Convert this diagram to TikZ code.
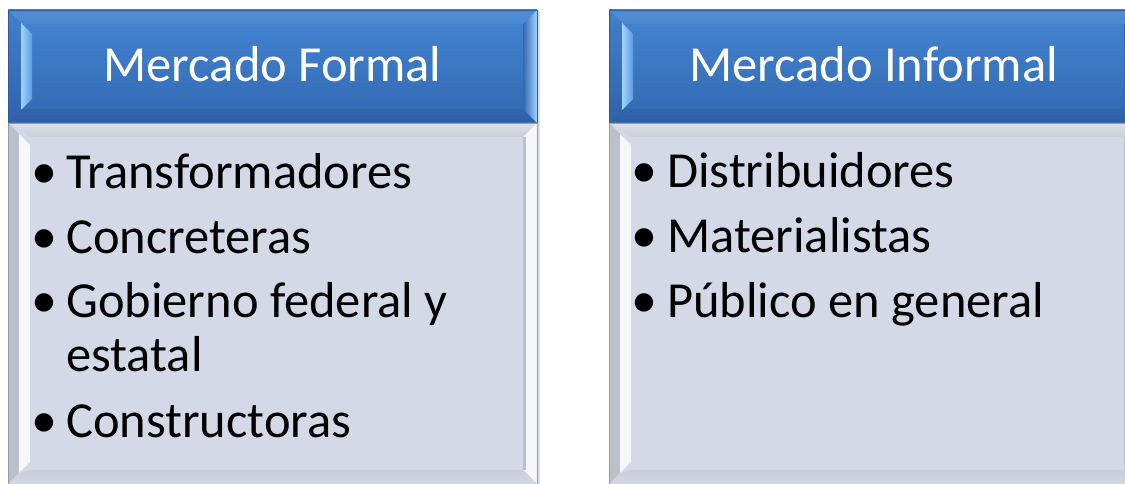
\documentclass[tikz,border=0pt]{standalone}
\usepackage{fontspec}
\setmainfont{Carlito}
\definecolor{hdtop}{RGB}{68,134,210}
\definecolor{hdbot}{RGB}{50,103,178}
\definecolor{hdline}{RGB}{45,90,155}
\definecolor{hdlight}{RGB}{160,212,255}
\definecolor{hdmid}{RGB}{90,155,228}
\definecolor{bdfill}{RGB}{211,217,230}
\definecolor{bdtop}{RGB}{222,225,232}
\definecolor{bdtopin}{RGB}{200,205,217}
\definecolor{bdgray}{RGB}{188,192,203}
\definecolor{bdwhite}{RGB}{246,247,249}
\definecolor{bdline}{RGB}{150,155,166}
\definecolor{shadowc}{RGB}{222,222,222}
\tikzset{
  hdtext/.style={anchor=base, inner sep=0pt, text=white, font=\fontsize{50.5bp}{55bp}\selectfont},
  bdtext/.style={anchor=base west, inner sep=0pt, text=black, font=\fontsize{50.5bp}{55bp}\selectfont},
  bullet/.style={anchor=base, inner sep=0pt, text=black, font=\fontsize{52bp}{55bp}\selectfont},
}
\newcommand{\mkcolumn}[1]{%
\begin{scope}[shift={(#1,0)}]
  % shadow
  \fill[shadowc] (9,11) rectangle (540,490);
  % header
  \shade[top color=hdtop,bottom color=hdbot] (8,10) rectangle (537,123);
  \fill[white,opacity=0.06] (8,10)--(537,10)--(523,24)--(22,24)--cycle;
  \fill[black,opacity=0.06] (8,123)--(537,123)--(523,109)--(22,109)--cycle;
  \fill[black,opacity=0.04] (8,10)--(22,24)--(22,109)--(8,123)--cycle;
  \shade[left color=hdlight,right color=hdmid] (21,23)--(32,34)--(32,99)--(21,110)--cycle;
  \shade[left color=hdbot,right color=hdlight] (537,10)--(523,24)--(523,109)--(537,123)--cycle;
  \draw[hdline,line width=0.8bp] (8,10) rectangle (537,123);
  % body
  \fill[bdfill] (8,123) rectangle (537,490);
  \shade[top color=bdtop,bottom color=bdtopin] (8,123)--(537,123)--(523,137)--(30,137)--(8,123)--cycle;
  \fill[bdgray] (8,123)--(30,145)--(30,462)--(8,484)--cycle;
  \fill[bdwhite] (19,134)--(30,145)--(30,462)--(19,473)--cycle;
  \fill[bdwhite] (537,123)--(523,137)--(523,470)--(537,484)--cycle;
  \fill[bdgray] (523,137)--(526,137)--(526,470)--(523,470)--cycle;
  \shade[top color=bdtopin,bottom color=bdfill] (8,484)--(537,484)--(523,470)--(30,470)--(19,473)--cycle;
  \draw[bdline,line width=0.8bp] (8,123) rectangle (537,490);
\end{scope}}
\begin{document}
\begin{tikzpicture}[x=1bp,y=-1bp]
  \useasboundingbox (0,0) rectangle (1125,484);
  \clip (0,0) rectangle (1125,484);
  \fill[white] (0,0) rectangle (1125,484);
  \mkcolumn{0}
  \mkcolumn{601}
  % headers
  \node[hdtext] (hformal) at (272.5,82) {Mercado Formal};
  \node[hdtext] (hinformal) at (873.5,82) {Mercado Informal};
  % left list
  \node[bullet] (b1) at (44,189) {•};
  \node[bdtext] (t1) at (66,189) {Transformadores};
  \node[bullet] (b2) at (44,254) {•};
  \node[bdtext] (t2) at (66,254) {Concreteras};
  \node[bullet] (b3) at (44,318) {•};
  \node[bdtext] (t3) at (66,318) {Gobierno federal y};
  \node[bdtext] (t3b) at (66,372) {estatal};
  \node[bullet] (b4) at (44,437) {•};
  \node[bdtext] (t4) at (66,437) {Constructoras};
  % right list
  \node[bullet] (c1) at (644,188) {•};
  \node[bdtext] (u1) at (667,188) {Distribuidores};
  \node[bullet] (c2) at (644,253) {•};
  \node[bdtext] (u2) at (667,253) {Materialistas};
  \node[bullet] (c3) at (644,318) {•};
  \node[bdtext] (u3) at (667,318) {Público en general};
\end{tikzpicture}
\end{document}
